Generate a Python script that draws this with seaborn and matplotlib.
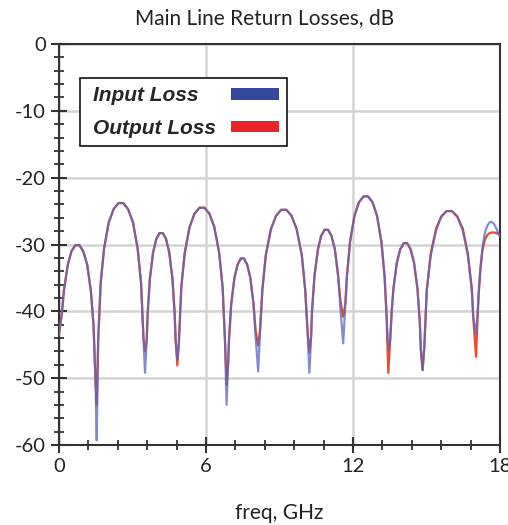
import matplotlib
matplotlib.use("Agg")
import matplotlib.pyplot as plt
from matplotlib.patches import Patch
from matplotlib.ticker import MultipleLocator
from matplotlib.offsetbox import HPacker, DrawingArea
import seaborn as sns

title = "Main Line Return Losses, dB"
xlabel = "freq, GHz"
series_names = ["Input Loss", "Output Loss"]
x_ticks = [0, 6, 12, 18]
y_ticks = [0, -10, -20, -30, -40, -50, -60]

freq = [
    0.00, 0.12, 0.20, 0.36, 0.51, 0.67, 0.83, 0.99, 1.15, 1.30, 1.41, 1.49, 1.54,
    1.60, 1.70, 1.84, 2.03, 2.23, 2.43, 2.62, 2.82, 3.02, 3.21, 3.35, 3.45, 3.51,
    3.58, 3.62, 3.71, 3.84, 3.97, 4.10, 4.24, 4.37, 4.50, 4.63, 4.72, 4.76, 4.83,
    4.89, 4.99, 5.13, 5.33, 5.53, 5.73, 5.94, 6.14, 6.34, 6.54, 6.68, 6.78, 6.84,
    6.90, 6.94, 7.03, 7.16, 7.29, 7.42, 7.55, 7.68, 7.81, 7.94, 8.03, 8.13,
    8.21, 8.30, 8.44, 8.65, 8.86, 9.07, 9.28, 9.49, 9.70, 9.91, 10.05, 10.14, 10.22,
    10.29, 10.33, 10.43, 10.57, 10.70, 10.84, 10.98, 11.12, 11.26, 11.39, 11.49, 11.60,
    11.69, 11.75, 11.88, 12.06, 12.24, 12.43, 12.61, 12.80, 12.98, 13.16, 13.29, 13.37, 13.44,
    13.52, 13.58, 13.65, 13.79, 13.93, 14.07, 14.21, 14.35, 14.49, 14.63, 14.73, 14.77, 14.84,
    14.91, 15.01, 15.17, 15.39, 15.60, 15.82, 16.04, 16.26, 16.48, 16.69, 16.85, 16.91, 17.02,
    17.08, 17.13, 17.20, 17.28, 17.38, 17.48, 17.57, 17.66, 17.75, 17.85, 17.93, 18.00,
]

input_loss = [
    -43.3, -40.2, -36.9, -33.0, -31.0, -30.1, -30.1, -31.0, -33.0, -36.9, -42.1, -50.5, -59.3,
    -44.2, -35.8, -30.6, -26.7, -24.7, -23.8, -23.8, -24.7, -26.7, -30.6, -35.8, -44.2, -49.2,
    -44.3, -40.3, -35.1, -31.2, -29.2, -28.3, -28.3, -29.2, -31.2, -35.1, -40.3, -44.3, -47.3,
    -44.9, -36.5, -31.3, -27.4, -25.4, -24.5, -24.5, -25.4, -27.4, -31.3, -36.5, -44.9, -54.0,
    -48.1, -44.1, -38.9, -35.0, -33.0, -32.1, -32.1, -33.0, -35.0, -38.9, -44.1, -49.0,
    -42.7, -36.8, -31.6, -27.7, -25.7, -24.8, -24.8, -25.7, -27.7, -31.6, -36.8, -42.7, -49.2,
    -43.8, -39.8, -34.6, -30.7, -28.7, -27.8, -27.8, -28.7, -30.7, -34.6, -39.8, -44.8,
    -38.8, -34.8, -29.6, -25.7, -23.7, -22.8, -22.8, -23.7, -25.7, -29.6, -34.8, -40.7, -45.8,
    -44.2, -39.9, -36.6, -32.7, -30.7, -29.8, -29.8, -30.7, -32.7, -36.6, -41.8, -45.8, -48.8,
    -45.4, -36.9, -31.7, -27.9, -25.9, -25.0, -25.0, -25.9, -27.9, -31.7, -36.9, -41.0, -43.3,
    -40.5, -37.0, -33.5, -30.5, -28.3, -27.2, -26.7, -26.6, -26.9, -27.6, -28.3, -28.8,
]

output_loss = [
    -43.5, -40.2, -36.9, -33.0, -31.0, -30.1, -30.1, -31.0, -33.0, -36.9, -42.1, -50.5, -54.0,
    -44.2, -35.8, -30.6, -26.7, -24.7, -23.8, -23.8, -24.7, -26.7, -30.6, -35.8, -44.2, -46.0,
    -44.3, -40.3, -35.1, -31.2, -29.2, -28.3, -28.3, -29.2, -31.2, -35.1, -40.3, -44.3, -48.1,
    -44.9, -36.5, -31.3, -27.4, -25.4, -24.5, -24.5, -25.4, -27.4, -31.3, -36.5, -44.9, -51.0,
    -48.1, -44.1, -38.9, -35.0, -33.0, -32.1, -32.1, -33.0, -35.0, -38.9, -43.0, -45.1,
    -42.7, -36.8, -31.6, -27.7, -25.7, -24.8, -24.8, -25.7, -27.7, -31.6, -36.8, -42.7, -46.1,
    -43.8, -39.8, -34.6, -30.7, -28.7, -27.8, -27.8, -28.7, -30.7, -34.6, -38.5, -40.8,
    -38.8, -34.8, -29.6, -25.7, -23.7, -22.8, -22.8, -23.7, -25.7, -29.6, -34.8, -40.7, -49.2,
    -44.2, -39.9, -36.6, -32.7, -30.7, -29.8, -29.8, -30.7, -32.7, -36.6, -41.8, -45.8, -48.8,
    -45.4, -36.9, -31.4, -27.6, -25.8, -25.0, -25.0, -25.8, -27.6, -31.4, -36.6, -41.0, -46.8,
    -41.5, -37.5, -33.8, -31.0, -29.3, -28.6, -28.3, -28.2, -28.2, -28.3, -28.4, -28.6,
]

blue_legend = "#33489c"
red_legend = "#e8232a"
blue_line = "#5566c4"
red_line = "#f04a2a"

sns.set_style("white")
plt.rcParams["font.family"] = ["Lato", "DejaVu Sans"]
plt.rcParams["axes.unicode_minus"] = False

fig = plt.figure(figsize=(5.08, 5.25), dpi=100)
ax = fig.add_axes([59 / 508, 1 - 445 / 525, 441 / 508, 401 / 525])

sns.lineplot(x=freq, y=output_loss, ax=ax, color=red_line, linewidth=1.6,
             estimator=None, sort=False, zorder=3)
sns.lineplot(x=freq, y=input_loss, ax=ax, color=blue_line, linewidth=1.6,
             alpha=0.75, estimator=None, sort=False, zorder=4)

ax.set_xlim(0, 18)
ax.set_ylim(-60, 0)
ax.set_xticks(x_ticks)
ax.set_yticks(y_ticks)
ax.xaxis.set_minor_locator(MultipleLocator(1.2))
ax.yaxis.set_minor_locator(MultipleLocator(2))

ax.grid(True, which="major", color="#d4d4d4", linewidth=1.8, zorder=0)
ax.set_axisbelow(True)

for s in ax.spines.values():
    s.set_visible(True)
    s.set_color("#333333")
    s.set_linewidth(1.5)

ax.tick_params(axis="both", which="major", direction="inout", length=11, width=1.5,
               color="#333333", labelsize=14.5, labelcolor="#222222", pad=4)
ax.tick_params(axis="both", which="minor", direction="inout", length=7, width=1.3,
               color="#333333")
ax.tick_params(axis="x", which="both", bottom=True, top=False)
ax.tick_params(axis="y", which="both", left=True, right=False)

ax.set_title(title, fontsize=15, color="#222222", pad=14, x=(265 - 59) / 441)
ax.set_xlabel(xlabel, fontsize=15, color="#222222", labelpad=20)
ax.set_ylabel("")

handles = [Patch(facecolor=blue_legend, edgecolor="none"),
           Patch(facecolor=red_legend, edgecolor="none")]
leg = ax.legend(handles, series_names, loc="upper left",
                bbox_to_anchor=(21 / 441, (445 - 78) / 401), borderaxespad=0,
                markerfirst=False, frameon=True, fancybox=False, framealpha=1,
                edgecolor="#111111", handlelength=2.3, handleheight=0.5,
                handletextpad=0.7, labelspacing=0.65, borderpad=0.4,
                prop={"family": ["Liberation Sans", "DejaVu Sans"], "weight": "bold",
                      "style": "italic", "size": 15})
leg.get_frame().set_linewidth(1.2)
leg.set_zorder(10)

# left-align the label texts (with a little left inset) while keeping the
# swatches in one right-hand column
fig.canvas.draw()
renderer = fig.canvas.get_renderer()
widths = [t.get_window_extent(renderer).width for t in leg.texts]
wmax = max(widths)
column = leg._legend_handle_box.get_children()[0]
for item, w in zip(column.get_children(), widths):
    item.sep = item.sep + (wmax - w) * 72.0 / fig.dpi
    text_area = item._children[0]
    item._children[0] = HPacker(pad=0, sep=0, align="baseline",
                                children=[DrawingArea(3.6, 1), text_area])

fig.savefig("out.png", dpi=100)
